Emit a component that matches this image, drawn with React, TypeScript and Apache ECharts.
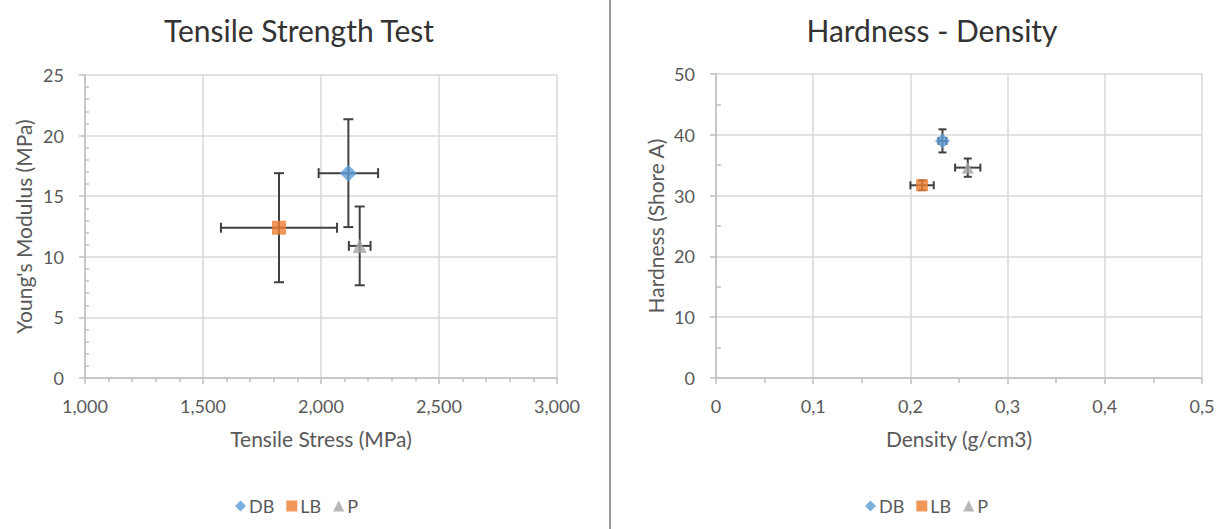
import React, { useEffect, useRef } from "react";
import * as echarts from "echarts";

// ---- Data ----
const seriesNames = ["DB", "LB", "P"];
const seriesColors = ["#5B9BD5", "#ED7D31", "#A5A5A5"];
const seriesSymbols = ["diamond", "rect", "triangle"];

// Tensile Strength Test: [tensile stress, young's modulus]
const tensileStress = [2116, 1822, 2164];
const tensileStressErr = [126, 246, 46];
const youngsModulus = [16.9, 12.4, 10.9];
const youngsModulusErr = [4.45, 4.5, 3.25];

// Hardness - Density: [density, hardness]
const density = [0.233, 0.212, 0.259];
const densityErr = [0.004, 0.012, 0.013];
const hardness = [39.0, 31.7, 34.6];
const hardnessErr = [1.9, 0.8, 1.5];

const FONT = "Lato, 'Open Sans', sans-serif";
const LABEL_COLOR = "#595959";

function errorBarSeries(
  xIdx: number,
  xs: number[],
  ys: number[],
  xe: number[],
  ye: number[],
  cap: number
) {
  return {
    type: "custom",
    xAxisIndex: xIdx,
    yAxisIndex: xIdx,
    silent: true,
    z: 1,
    data: xs.map((x, i) => [x, ys[i], xe[i], ye[i]]),
    renderItem: (params: any, api: any) => {
      const x = api.value(0);
      const y = api.value(1);
      const ex = api.value(2);
      const ey = api.value(3);
      const l = api.coord([x - ex, y]);
      const r = api.coord([x + ex, y]);
      const t = api.coord([x, y + ey]);
      const b = api.coord([x, y - ey]);
      const style = { stroke: "#404040", lineWidth: 2 };
      const h = cap / 2;
      return {
        type: "group",
        children: [
          { type: "line", shape: { x1: l[0], y1: l[1], x2: r[0], y2: r[1] }, style },
          { type: "line", shape: { x1: l[0], y1: l[1] - h, x2: l[0], y2: l[1] + h }, style },
          { type: "line", shape: { x1: r[0], y1: r[1] - h, x2: r[0], y2: r[1] + h }, style },
          { type: "line", shape: { x1: t[0], y1: t[1], x2: b[0], y2: b[1] }, style },
          { type: "line", shape: { x1: t[0] - h, y1: t[1], x2: t[0] + h, y2: t[1] }, style },
          { type: "line", shape: { x1: b[0] - h, y1: b[1], x2: b[0] + h, y2: b[1] }, style },
        ],
      };
    },
  };
}

function scatterSeries(idx: number, xs: number[], ys: number[], size: number) {
  return seriesNames.map((name, i) => ({
    type: "scatter",
    name,
    xAxisIndex: idx,
    yAxisIndex: idx,
    symbol: seriesSymbols[i],
    symbolSize: seriesSymbols[i] === "diamond" ? size + 3 : size,
    itemStyle: { color: seriesColors[i] },
    z: 3,
    data: [[xs[i], ys[i]]],
  }));
}

function valueAxisCommon() {
  return {
    type: "value",
    axisLine: { show: true, lineStyle: { color: "#BFBFBF", width: 1.5 } },
    axisTick: { show: true, length: 6, lineStyle: { color: "#BFBFBF", width: 1.5 } },
    splitLine: { show: true, lineStyle: { color: "#D9D9D9", width: 1.5 } },
    axisLabel: { color: LABEL_COLOR, fontSize: 18, fontFamily: FONT, margin: 18 },
    nameTextStyle: { color: LABEL_COLOR, fontSize: 21, fontFamily: FONT },
    nameLocation: "middle",
  };
}

const legendCommon = {
  itemWidth: 11,
  itemHeight: 11,
  itemGap: 12,
  textStyle: { color: LABEL_COLOR, fontSize: 18, fontFamily: FONT, padding: [0, 0, 0, -2] },
  selectedMode: false,
};

export default function App() {
  const ref = useRef<HTMLDivElement>(null);
  useEffect(() => {
    if (!ref.current) return;
    const chart = echarts.init(ref.current, null, { renderer: "svg" });
    const option: any = {
      animation: false,
      backgroundColor: "#FFFFFF",
      textStyle: { fontFamily: FONT },
      title: [
        {
          text: "Tensile Strength Test",
          left: 294,
          top: 10,
          textAlign: "center",
          textStyle: { fontSize: 30, fontWeight: "normal", color: "#333333", fontFamily: FONT },
        },
        {
          text: "Hardness - Density",
          left: 927,
          top: 10,
          textAlign: "center",
          textStyle: { fontSize: 30, fontWeight: "normal", color: "#333333", fontFamily: FONT },
        },
      ],
      legend: [
        {
          ...legendCommon,
          data: seriesNames.map((n, i) => ({ name: n, icon: seriesSymbols[i] })),
          left: 230,
          top: 492,
        },
        {
          ...legendCommon,
          data: seriesNames.map((n, i) => ({ name: n, icon: seriesSymbols[i] })),
          left: 860,
          top: 492,
        },
      ],
      grid: [
        { left: 85, right: 1225 - 557, top: 75, bottom: 529 - 378 },
        { left: 716, right: 1225 - 1202, top: 74, bottom: 529 - 378 },
      ],
      xAxis: [
        {
          ...valueAxisCommon(),
          gridIndex: 0,
          min: 1000,
          max: 3000,
          interval: 500,
          name: "Tensile Stress (MPa)",
          nameGap: 50,
          minorTick: { show: true, splitNumber: 5, length: 4, lineStyle: { color: "#BFBFBF", width: 1.5 } },
          axisLabel: {
            ...valueAxisCommon().axisLabel,
            margin: 19,
            formatter: (v: number) => v.toLocaleString("en-US"),
          },
        },
        {
          ...valueAxisCommon(),
          gridIndex: 1,
          min: 0,
          max: 0.5,
          interval: 0.1,
          name: "Density (g/cm3)",
          nameGap: 50,
          minorTick: { show: true, splitNumber: 2, length: 5, lineStyle: { color: "#BFBFBF", width: 1.5 } },
          axisLabel: {
            ...valueAxisCommon().axisLabel,
            margin: 19,
            formatter: (v: number) => String(Math.round(v * 10) / 10).replace(".", ","),
          },
        },
      ],
      yAxis: [
        {
          ...valueAxisCommon(),
          gridIndex: 0,
          min: 0,
          max: 25,
          interval: 5,
          name: "Young's Modulus (MPa)",
          nameGap: 51,
          axisLabel: { ...valueAxisCommon().axisLabel, margin: 21 },
          minorTick: { show: true, splitNumber: 5, length: -4, lineStyle: { color: "#BFBFBF", width: 1.5 } },
        },
        {
          ...valueAxisCommon(),
          gridIndex: 1,
          min: 0,
          max: 50,
          interval: 10,
          name: "Hardness (Shore A)",
          nameGap: 50,
          axisLabel: { ...valueAxisCommon().axisLabel, margin: 21 },
          minorTick: { show: true, splitNumber: 2, length: -5, lineStyle: { color: "#BFBFBF", width: 1.5 } },
        },
      ],
      graphic: [
        {
          type: "line",
          shape: { x1: 610, y1: 0, x2: 610, y2: 529 },
          style: { stroke: "#9A9A9A", lineWidth: 2 },
        },
      ],
      series: [
        errorBarSeries(0, tensileStress, youngsModulus, tensileStressErr, youngsModulusErr, 10),
        ...scatterSeries(0, tensileStress, youngsModulus, 14),
        errorBarSeries(1, density, hardness, densityErr, hardnessErr, 8),
        ...scatterSeries(1, density, hardness, 12),
      ],
    };
    chart.setOption(option);
    return () => chart.dispose();
  }, []);
  return (
    <div
      ref={ref}
      style={{ position: "absolute", left: 0, top: 0, width: 1225, height: 529 }}
    />
  );
}
